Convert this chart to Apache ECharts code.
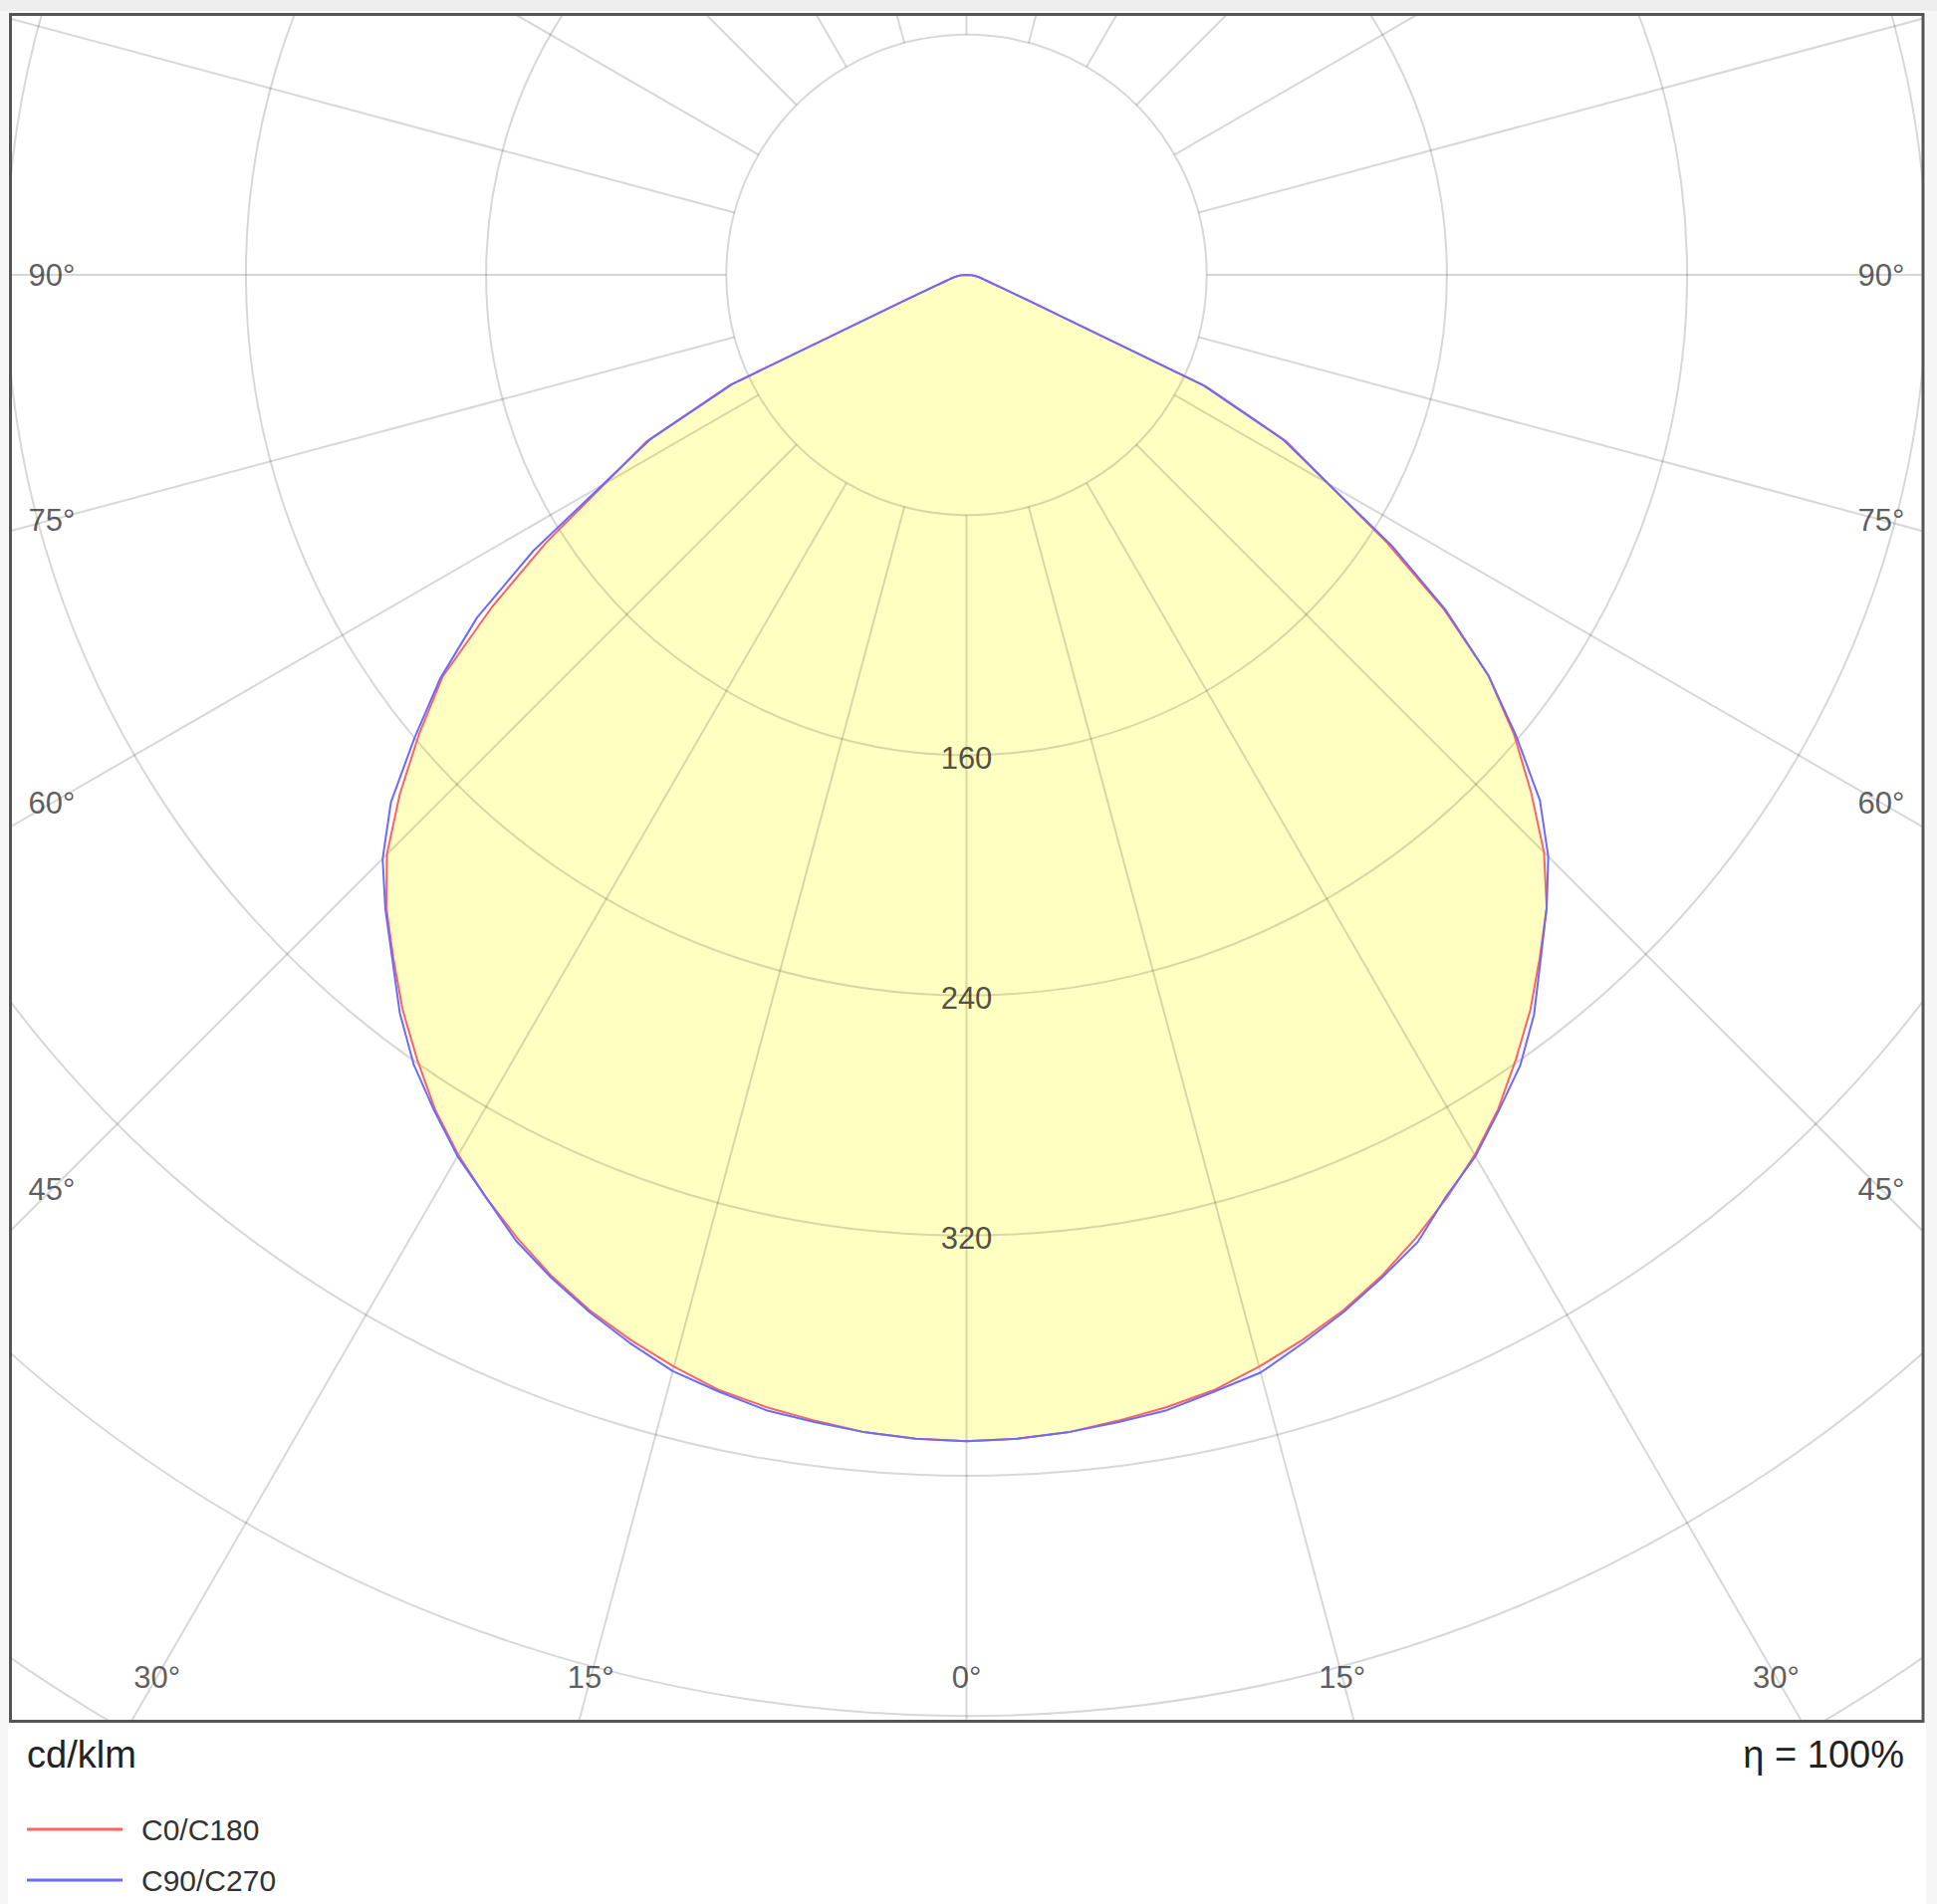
<!DOCTYPE html>
<html>
<head>
<meta charset="utf-8">
<script src="https://cdn.jsdelivr.net/npm/echarts/dist/echarts.min.js"></script>
<style>
html,body{margin:0;padding:0;background:#ffffff;}
#chart{width:1945px;height:1912px;}
</style>
</head>
<body>
<div id="chart"></div>
<script>
// ---- data (cd/klm), gamma angles measured from nadir ----
const angles = [0,2.5,5,7.5,10,12.5,15,17.5,20,22.5,25,27.5,30,32.5,35,37.5,40,42.5,45,47.5,50,52.5,55,57.5,60,62.5,65,67.5,70,72.5,75,77.5,80,82.5,85,87.5,90,180];
const c0   = [388.5,388,387,385,383,380.5,376.5,372,367,361,354,346.5,338.5,329.5,319,308.5,297,286,272,255,238,219,194,166,139,120,88,23,12,8,6,5,4,3,2,1,0,0];
const c180 = [388.5,388,387,385,383,380.5,376.5,372,367,361,354,346.5,338.5,329.5,319,308.5,297,286,273,256,238,220,193,166,139,120,87,23,12,8,6,5,4,3,2,1,0,0];
const c90  = [388.5,388,387,385.5,384,381,378.5,373,367.5,361.5,355.5,346,339,330,321.5,310.5,297.5,286,274,259,239,219,195,168,139,119,87,22,12,8,6,5,4,3,2,1,0,0];
const c270 = [388.5,388,387,385.5,384,381,378,373,367.5,361.5,355,346.5,339,330,321,310,297.5,286.5,275,260,240,221,199,171,140,119,86,22,12,8,6,5,4,3,2,1,0,0];
const seriesNames = ['C0/C180', 'C90/C270'];
const ringLabels = [160, 240, 320];
const angleTicks = [0, 15, 30, 45, 60, 75, 90];
const unitText = 'cd/klm';
const effText = 'η = 100%';

// ---- layout ----
const CENTER = [970.5, 276];
const R_MAX = 600;
const POLAR_R = 1809;
const PX_PER_CD = POLAR_R / R_MAX;
const INNER_VALUE = 80;
const BOTTOM_LABEL_DY = 1408;
const SIDE_LABEL_DX = 918.5;
const FONT = '"Liberation Sans", Arial, sans-serif';
const FR = {x: 10.5, y: 14.5, w: 1920.5, h: 1714};

function closedCurve(right, left) {
  const pts = angles.map((a, i) => [right[i], a]);
  for (let i = angles.length - 1; i >= 0; i--) pts.push([left[i], 360 - angles[i]]);
  return pts;
}
const curveA = closedCurve(c0, c180);
const curveB = closedCurve(c90, c270);

const angleLabelData = [];
angleTicks.forEach(t => {
  const rad = t * Math.PI / 180;
  const rPx = t <= 30 ? BOTTOM_LABEL_DY / Math.cos(rad) : SIDE_LABEL_DX / Math.sin(rad);
  const r = rPx / PX_PER_CD;
  angleLabelData.push({value: [r, t], name: t + '°'});
  if (t !== 0) angleLabelData.push({value: [r, 360 - t], name: t + '°'});
});
const ringLabelData = ringLabels.map(v => ({value: [v, 0], name: String(v)}));

const angleAxisBase = {type: 'value', min: 0, max: 360, startAngle: 270, clockwise: false,
  axisLine: {show: false}, axisTick: {show: false}, axisLabel: {show: false}};

const chart = echarts.init(document.getElementById('chart'), null, {renderer: 'svg', width: 1945, height: 1912});

const option = {
  animation: false,
  backgroundColor: '#ffffff',
  polar: [
    {center: CENTER, radius: [0, POLAR_R]},
    {center: CENTER, radius: [INNER_VALUE * PX_PER_CD, POLAR_R]}
  ],
  angleAxis: [
    Object.assign({}, angleAxisBase, {polarIndex: 0, splitLine: {show: false}}),
    Object.assign({}, angleAxisBase, {polarIndex: 1, interval: 15, z: 3,
      splitLine: {show: true, lineStyle: {color: 'rgba(0,0,0,0.155)', width: 2}}})
  ],
  radiusAxis: [
    {polarIndex: 0, type: 'value', min: 0, max: R_MAX, axisLine: {show: false}, axisTick: {show: false},
      axisLabel: {show: false}, splitLine: {show: false}},
    {polarIndex: 1, type: 'value', min: INNER_VALUE, max: R_MAX, interval: 80, z: 3,
      axisLine: {show: false}, axisTick: {show: false}, axisLabel: {show: false},
      splitLine: {show: true, lineStyle: {color: 'rgba(0,0,0,0.155)', width: 2}}}
  ],
  legend: {
    data: seriesNames, orient: 'vertical', left: 27, top: 1822, height: 90, padding: 0, z: 60,
    icon: 'rect', itemWidth: 96, itemHeight: 3, itemGap: 21,
    selectedMode: false,
    textStyle: {fontSize: 30, fontFamily: FONT, color: '#333', lineHeight: 30, padding: [0, 0, 0, 14]}
  },
  series: [
    {type: 'line', name: 'fill', coordinateSystem: 'polar', polarIndex: 0, data: curveA,
      symbol: 'none', silent: true, z: 1, lineStyle: {width: 0, opacity: 0},
      areaStyle: {color: '#ffffc2', opacity: 1}},
    {type: 'line', name: seriesNames[0], coordinateSystem: 'polar', polarIndex: 0, data: curveA,
      symbol: 'none', z: 5, itemStyle: {color: '#ff6262'}, lineStyle: {color: '#ff6262', width: 2}},
    {type: 'line', name: seriesNames[1], coordinateSystem: 'polar', polarIndex: 0, data: curveB,
      symbol: 'none', z: 5, itemStyle: {color: '#6a6aff'}, lineStyle: {color: '#6a6aff', width: 2}},
    {type: 'scatter', name: 'rings', coordinateSystem: 'polar', polarIndex: 0, data: ringLabelData,
      symbolSize: 1, itemStyle: {color: 'rgba(0,0,0,0)'}, z: 6, silent: true,
      label: {show: true, position: 'inside', formatter: '{b}', offset: [0, 3],
        fontSize: 31, fontFamily: FONT, color: '#222'}},
    {type: 'scatter', name: 'angles', coordinateSystem: 'polar', polarIndex: 0, data: angleLabelData,
      symbolSize: 1, itemStyle: {color: 'rgba(0,0,0,0)'}, z: 6, silent: true,
      label: {show: true, position: 'inside', formatter: '{b}',
        fontSize: 31, fontFamily: FONT, color: '#333'}}
  ],
  graphic: [
    {type: 'rect', z: 50, silent: true, shape: {x: 0, y: 0, width: 1945, height: FR.y}, style: {fill: '#ffffff'}},
    {type: 'rect', z: 50, silent: true, shape: {x: 0, y: 0, width: FR.x, height: 1912}, style: {fill: '#ffffff'}},
    {type: 'rect', z: 50, silent: true, shape: {x: FR.x + FR.w, y: 0, width: 1945 - FR.x - FR.w, height: 1912}, style: {fill: '#ffffff'}},
    {type: 'rect', z: 50, silent: true, shape: {x: 0, y: FR.y + FR.h, width: 1945, height: 1912 - FR.y - FR.h}, style: {fill: '#ffffff'}},
    {type: 'rect', z: 51, silent: true, shape: {x: 0, y: 0, width: 1945, height: 11}, style: {fill: '#eeeeee'}},
    {type: 'rect', z: 51, silent: true, shape: {x: 0, y: 11, width: 8, height: 1901}, style: {fill: '#f6f6f6'}},
    {type: 'rect', z: 51, silent: true, shape: {x: 1934, y: 11, width: 11, height: 1901}, style: {fill: '#f6f6f6'}},
    {type: 'rect', z: 55, silent: true, shape: {x: FR.x, y: FR.y, width: FR.w, height: FR.h},
      style: {fill: 'none', stroke: '#555555', lineWidth: 3}},
    {type: 'text', z: 60, silent: true, x: 27, y: 1762,
      style: {text: unitText, fontSize: 38, fontFamily: FONT, fill: '#222', textAlign: 'left', textVerticalAlign: 'middle'}},
    {type: 'text', z: 60, silent: true, x: 1912, y: 1762,
      style: {text: effText, fontSize: 38, fontFamily: FONT, fill: '#222', textAlign: 'right', textVerticalAlign: 'middle'}}
  ]
};
chart.setOption(option);
</script>
</body>
</html>
